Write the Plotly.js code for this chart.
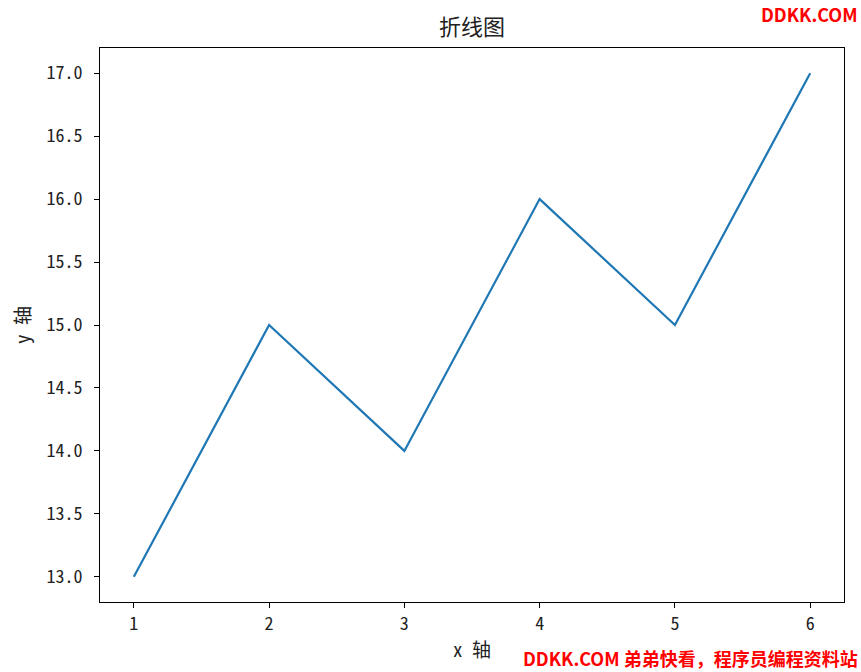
<!DOCTYPE html>
<html>
<head>
<meta charset="utf-8">
<script src="https://cdn.plot.ly/plotly-3.0.1.min.js"></script>
<style>html,body{margin:0;padding:0;background:#fff;}</style>
</head>
<body>
<div id="chart" style="width:861px;height:672px;"></div>
<script>
const xValues = [1, 2, 3, 4, 5, 6];
const yValues = [13, 15, 14, 16, 15, 17];
const xTicks = [1, 2, 3, 4, 5, 6];
const yTicks = [13.0, 13.5, 14.0, 14.5, 15.0, 15.5, 16.0, 16.5, 17.0];
const yTickText = ['13.0', '13.5', '14.0', '14.5', '15.0', '15.5', '16.0', '16.5', '17.0'];

const font = 'SimHei, "Noto Sans Mono CJK SC", "Noto Sans CJK SC", "DejaVu Sans", sans-serif';
const wmFont = '"Noto Sans CJK SC", sans-serif';

Plotly.newPlot('chart', [{
  x: xValues, y: yValues, type: 'scatter', mode: 'lines',
  line: {color: '#1f77b4', width: 2.2}, hoverinfo: 'none'
}], {
  width: 861, height: 672,
  margin: {l: 100, r: 17, t: 48, b: 70},
  paper_bgcolor: '#fff', plot_bgcolor: '#fff',
  font: {family: font, color: '#222', size: 18},
  title: {text: '折线图', x: 0.5, xref: 'paper', y: 0.96, yanchor: 'middle', font: {family: font, size: 22, color: '#222'}},
  xaxis: {
    range: [0.75, 6.25], tickvals: xTicks, ticks: 'outside', ticklen: 5, tickcolor: '#000', tickwidth: 1,
    ticklabelstandoff: 0,
    showgrid: false, zeroline: false, showline: true, linecolor: '#000', linewidth: 1, mirror: true,
    tickfont: {family: font, size: 18, color: '#222'},
    title: {text: 'x 轴', standoff: 10, font: {family: font, size: 19, color: '#222'}}
  },
  yaxis: {
    range: [12.8, 17.2], tickvals: yTicks, ticktext: yTickText, ticks: 'outside', ticklen: 5, tickcolor: '#000', tickwidth: 1,
    ticklabelstandoff: 8,
    showgrid: false, zeroline: false, showline: true, linecolor: '#000', linewidth: 1, mirror: true,
    tickfont: {family: font, size: 18, color: '#222'},
    title: {text: 'y 轴', standoff: 10, font: {family: font, size: 19, color: '#222'}}
  },
  showlegend: false,
  annotations: [
    {text: '<b>DDKK.COM</b>', xref: 'paper', yref: 'paper', x: 1, xanchor: 'right', xshift: 16, y: 1, yanchor: 'middle', yshift: 34, showarrow: false, font: {family: wmFont, size: 18, color: '#ff0000'}},
    {text: '<b>DDKK.COM 弟弟快看，程序员编程资料站</b>', xref: 'paper', yref: 'paper', x: 1, xanchor: 'right', xshift: 16, y: 0, yanchor: 'middle', yshift: -56, showarrow: false, font: {family: wmFont, size: 18, color: '#ff0000'}}
  ]
}, {displayModeBar: false, staticPlot: true});
</script>
</body>
</html>
